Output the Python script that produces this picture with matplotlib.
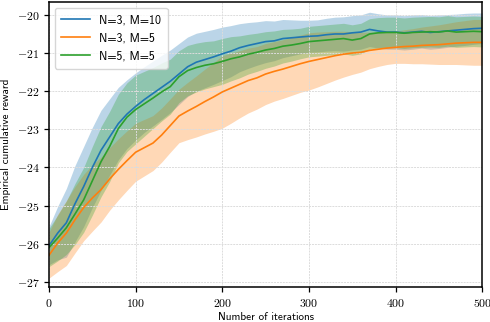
"""Empirical cumulative reward vs iterations for three (N, M) settings."""
import matplotlib

matplotlib.use("Agg")
import matplotlib.pyplot as plt
import numpy as np
from matplotlib.ticker import FuncFormatter, MultipleLocator

plt.rcParams["mathtext.fontset"] = "cm"

# values every 10 iterations
iters = np.arange(0, 501, 10)

blue_mean = [-26.05, -25.72, -25.45, -24.95, -24.5, -24.0, -23.55, -23.2, -22.85, -22.6,
             -22.4, -22.22, -22.06, -21.9, -21.74, -21.55, -21.36, -21.24, -21.17, -21.1,
             -21.02, -20.95, -20.86, -20.8, -20.75, -20.7, -20.68, -20.62, -20.6, -20.58,
             -20.56, -20.55, -20.52, -20.5, -20.5, -20.47, -20.45, -20.38, -20.42, -20.45,
             -20.45, -20.47, -20.45, -20.43, -20.46, -20.44, -20.42, -20.4, -20.38, -20.36,
             -20.35]
blue_spread = [0.5, 0.7, 0.9, 1.0, 1.05, 1.05, 1.05, 1.0, 0.95, 0.9,
               0.88, 0.86, 0.85, 0.84, 0.82, 0.8, 0.78, 0.76, 0.74, 0.72,
               0.7, 0.67, 0.63, 0.6, 0.57, 0.55, 0.52, 0.5, 0.47, 0.44,
               0.42, 0.42, 0.43, 0.44, 0.45, 0.45, 0.45, 0.45, 0.45, 0.45,
               0.45, 0.45, 0.45, 0.44, 0.44, 0.44, 0.43, 0.42, 0.42, 0.41,
               0.4]

orange_mean = [-26.3, -25.98, -25.72, -25.37, -25.05, -24.8, -24.58, -24.3, -24.05, -23.82,
               -23.6, -23.48, -23.36, -23.15, -22.9, -22.65, -22.52, -22.4, -22.27, -22.15,
               -22.02, -21.92, -21.82, -21.72, -21.65, -21.55, -21.48, -21.42, -21.35, -21.28,
               -21.22, -21.17, -21.12, -21.07, -21.03, -21.0, -20.98, -20.93, -20.9, -20.87,
               -20.85, -20.83, -20.82, -20.8, -20.79, -20.78, -20.76, -20.74, -20.73, -20.72,
               -20.72]
orange_spread = [0.6, 0.75, 0.85, 0.87, 0.87, 0.87, 0.85, 0.82, 0.8, 0.78,
                 0.76, 0.74, 0.72, 0.71, 0.7, 0.7, 0.75, 0.8, 0.85, 0.9,
                 0.95, 0.92, 0.88, 0.85, 0.82, 0.8, 0.78, 0.77, 0.76, 0.75,
                 0.75, 0.72, 0.68, 0.64, 0.6, 0.56, 0.52, 0.48, 0.45, 0.43,
                 0.42, 0.44, 0.46, 0.48, 0.5, 0.52, 0.54, 0.56, 0.58, 0.6,
                 0.6]

green_mean = [-26.1, -25.85, -25.58, -25.22, -24.85, -24.35, -23.85, -23.45, -22.98, -22.68,
              -22.48, -22.33, -22.18, -22.02, -21.88, -21.62, -21.46, -21.38, -21.32, -21.28,
              -21.22, -21.15, -21.1, -21.03, -20.98, -20.92, -20.88, -20.82, -20.79, -20.75,
              -20.7, -20.68, -20.66, -20.64, -20.62, -20.66, -20.62, -20.5, -20.47, -20.46,
              -20.46, -20.48, -20.46, -20.45, -20.44, -20.45, -20.42, -20.45, -20.44, -20.43,
              -20.44]
green_spread = [0.5, 0.6, 0.7, 0.8, 0.85, 0.9, 0.92, 0.92, 0.9, 0.9,
                0.9, 0.85, 0.8, 0.76, 0.72, 0.68, 0.66, 0.64, 0.62, 0.6,
                0.6, 0.58, 0.55, 0.52, 0.5, 0.48, 0.46, 0.44, 0.42, 0.4,
                0.4, 0.4, 0.4, 0.4, 0.4, 0.4, 0.4, 0.4, 0.4, 0.4,
                0.4, 0.4, 0.4, 0.4, 0.4, 0.4, 0.4, 0.4, 0.4, 0.4,
                0.4]

labels = ["N=3, M=10", "N=3, M=5", "N=5, M=5"]
colors = ["#1f77b4", "#ff7f0e", "#2ca02c"]

fig = plt.figure(figsize=(4.9, 3.22), dpi=100)
ax = fig.add_axes([0.1, 0.109, 0.884, 0.885])

series = [(blue_mean, blue_spread), (orange_mean, orange_spread), (green_mean, green_spread)]
for (m, s), c in zip(series, colors):
    m = np.array(m)
    s = np.array(s)
    ax.fill_between(iters, m - s, m + s, color=c, alpha=0.3, linewidth=0)
for (m, s), c, lab in zip(series, colors, labels):
    ax.plot(iters, m, color=c, lw=1.2, label=lab)

ax.set_xlim(0, 500)
ax.set_ylim(-27.13, -19.66)
ax.xaxis.set_major_locator(MultipleLocator(100))
ax.yaxis.set_major_locator(MultipleLocator(1))
fmt = FuncFormatter(lambda v, pos: f"${v:.0f}$")
ax.xaxis.set_major_formatter(fmt)
ax.yaxis.set_major_formatter(fmt)
ax.tick_params(labelsize=8.5, length=3.5, width=0.9)
ax.grid(True, color="#dcdcdc", linestyle=(0, (2, 1)), linewidth=0.7)
for sp in ax.spines.values():
    sp.set_linewidth(1.1)

ax.set_xlabel("Number of iterations", family="cmss10", fontsize=8, labelpad=2)
ax.set_ylabel("Empirical cumulative reward", family="cmss10", fontsize=8, labelpad=4)
ax.legend(loc="upper left", prop={"family": "cmss10", "size": 8.5}, handlelength=2.4,
          framealpha=0.8, borderpad=0.55)

fig.savefig("out.png", dpi=100)
